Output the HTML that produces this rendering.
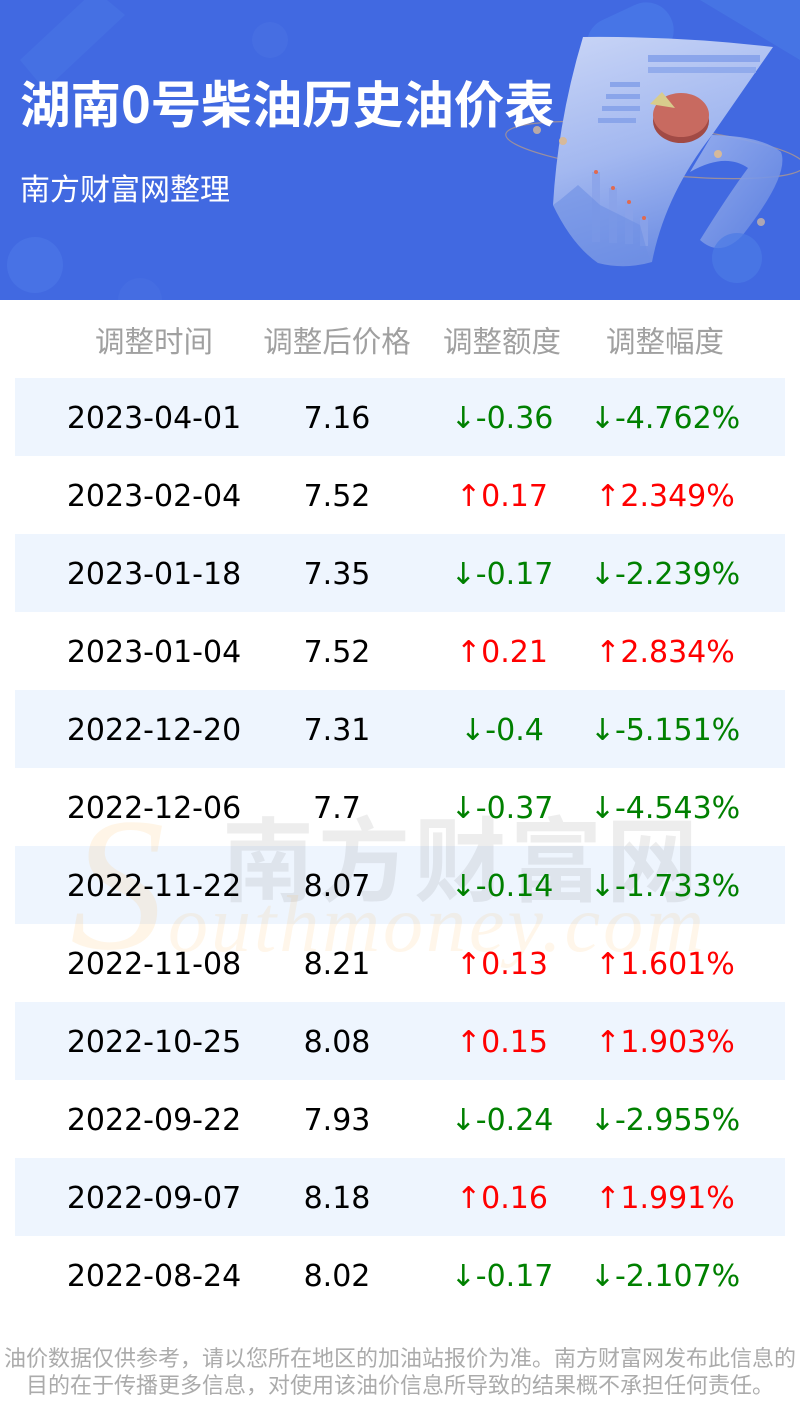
<!DOCTYPE html>
<html><head><meta charset="utf-8">
<style>
*{margin:0;padding:0;box-sizing:border-box}
body{width:800px;height:1428px;background:#fff;position:relative;overflow:hidden;font-family:"DejaVu Sans","Liberation Sans","Noto Sans CJK SC",sans-serif}
.hdr{position:absolute;left:0;top:0;width:800px;height:300px;background:#4169e1;overflow:hidden}
.title{position:absolute;left:20px;top:68px;font-size:50.5px;font-weight:bold;color:#fff;font-family:"Noto Sans CJK SC","WenQuanYi Zen Hei",sans-serif;line-height:66px;white-space:nowrap}
.sub{position:absolute;left:20px;top:167px;font-size:30px;color:#fff;font-family:"Noto Sans CJK SC",sans-serif;line-height:40px;white-space:nowrap}
.th{position:absolute;top:318px;height:44px;line-height:44px;font-size:29.5px;color:#a0a0a0;font-family:"Noto Sans CJK SC",sans-serif;text-align:center;white-space:nowrap}
.row{position:absolute;left:15px;width:770px;height:78px}
.row.s{background:#eef5fe}
.c{position:absolute;height:78px;line-height:78px;font-size:30px;text-align:center;white-space:nowrap;width:220px}
.c1{left:44px;color:#000}
.c2{left:227px;color:#000}
.c3{left:392px}
.c4{left:555px}
.g{color:#008000}.r{color:#ff0000}
.wm{position:absolute;white-space:nowrap;pointer-events:none}
.foot{position:absolute;left:0;width:800px;text-align:center;font-size:22px;color:#ababab;font-family:"Noto Sans CJK SC",sans-serif;line-height:27px;white-space:nowrap}
</style></head><body>
<div class="hdr">
<svg width="800" height="300" style="position:absolute;left:0;top:0">
<defs>
<linearGradient id="pg" x1="0" y1="0" x2="0.3" y2="1">
<stop offset="0" stop-color="#c9d5f6"/><stop offset="0.55" stop-color="#a3b8f0"/><stop offset="1" stop-color="#6f8fe4"/>
</linearGradient>
<linearGradient id="rg" x1="0" y1="0" x2="1" y2="1">
<stop offset="0" stop-color="#9bb2ef"/><stop offset="1" stop-color="#5f82df"/>
</linearGradient>
</defs>
<path d="M20,60 L95,-10 L125,15 L45,90 Z" fill="#4a78e6" opacity="0.5"/>
<circle cx="270" cy="40" r="18" fill="#4b73e4" opacity="0.5"/>
<circle cx="35" cy="265" r="28" fill="#4d78e8" opacity="0.6"/>
<circle cx="140" cy="300" r="22" fill="#4a72e3" opacity="0.5"/>
<rect x="585" y="10" width="90" height="55" rx="27" fill="#4a7be8" opacity="0.7" transform="rotate(-25 630 37)"/>
<path d="M700,0 L800,0 L800,60 Z" fill="#4c80e8" opacity="0.5"/>
<ellipse cx="655" cy="150" rx="150" ry="24" transform="rotate(6 655 150)" fill="none" stroke="#c0a081" stroke-width="1.2" opacity="0.7"/>
<path d="M583,37 Q680,36 773,47 L712,135 Q665,195 652,262 Q625,270 598,263 Q572,245 553,205 Q558,120 583,37 Z" fill="url(#pg)"/>
<path d="M712,135 Q762,136 781,152 Q790,175 742,236 Q720,258 700,240 Q728,195 748,168 Q725,152 690,172 Z" fill="url(#rg)" opacity="0.9"/>
<rect x="648" y="55" width="112" height="7" fill="#7f9ce8" opacity="0.8"/>
<rect x="648" y="67" width="108" height="6" fill="#8aa5ea" opacity="0.8"/>
<rect x="610" y="82" width="30" height="5" fill="#8aa5ea"/>
<rect x="606" y="94" width="34" height="5" fill="#8aa5ea"/>
<rect x="602" y="106" width="38" height="5" fill="#8aa5ea"/>
<rect x="598" y="118" width="38" height="5" fill="#8aa5ea"/>
<ellipse cx="681" cy="121" rx="28" ry="22" fill="#a14a45"/>
<ellipse cx="681" cy="115" rx="28" ry="22" fill="#c86a60"/>
<path d="M650,104 L662,92 L675,108 Z" fill="#d8cc8c"/>
<rect x="592" y="172" width="8" height="70" fill="#89a3e9" opacity="0.8"/>
<rect x="609" y="188" width="8" height="55" fill="#89a3e9" opacity="0.8"/>
<rect x="625" y="202" width="8" height="42" fill="#89a3e9" opacity="0.8"/>
<rect x="640" y="218" width="8" height="28" fill="#89a3e9" opacity="0.8"/>
<circle cx="596" cy="172" r="2" fill="#e06a50"/><circle cx="613" cy="188" r="2" fill="#e06a50"/><circle cx="629" cy="202" r="2" fill="#e06a50"/><circle cx="644" cy="218" r="2" fill="#e06a50"/>
<path d="M560,200 L578,185 L600,205 L640,225 L650,262 L598,263 Q572,245 553,205 Z" fill="#6e8fe4" opacity="0.6"/>
<circle cx="537" cy="130" r="4" fill="#d6b99a" opacity="0.8"/>
<circle cx="563" cy="141" r="4" fill="#d6b99a"/>
<circle cx="718" cy="154" r="4" fill="#d6b99a"/>
<circle cx="761" cy="222" r="4" fill="#c8b5a8" opacity="0.8"/>
<circle cx="737" cy="258" r="25" fill="#4b7ae6" opacity="0.7"/>
</svg>
<div class="title">湖南0号柴油历史油价表</div>
<div class="sub">南方财富网整理</div>
</div>

<div class="th" style="left:44px;width:220px">调整时间</div>
<div class="th" style="left:227px;width:220px">调整后价格</div>
<div class="th" style="left:392px;width:220px">调整额度</div>
<div class="th" style="left:555px;width:220px">调整幅度</div>

<div class="row s" style="top:378px"></div>
<div class="row s" style="top:534px"></div>
<div class="row s" style="top:690px"></div>
<div class="row s" style="top:846px"></div>
<div class="row s" style="top:1002px"></div>
<div class="row s" style="top:1158px"></div>

<div class="wm" style="left:222px;top:800px;font-size:92px;font-weight:bold;color:rgba(110,110,110,0.12);font-family:'Noto Sans CJK SC',sans-serif;letter-spacing:4px;line-height:110px">南方财富网</div>
<div class="wm" style="left:70px;top:790px;font-size:190px;font-style:italic;color:rgba(255,175,60,0.12);font-family:'Liberation Serif',serif;line-height:190px">S</div>
<div class="wm" style="left:168px;top:880px;font-size:80px;font-style:italic;color:rgba(255,175,60,0.11);font-family:'Liberation Serif',serif;line-height:90px;letter-spacing:3px">outhmoney.com</div>

<div style="position:absolute;left:0;top:380px;width:800px">
<div style="position:relative;height:78px"><div class="c c1">2023-04-01</div><div class="c c2">7.16</div><div class="c c3 g">↓-0.36</div><div class="c c4 g">↓-4.762%</div></div>
<div style="position:relative;height:78px"><div class="c c1">2023-02-04</div><div class="c c2">7.52</div><div class="c c3 r">↑0.17</div><div class="c c4 r">↑2.349%</div></div>
<div style="position:relative;height:78px"><div class="c c1">2023-01-18</div><div class="c c2">7.35</div><div class="c c3 g">↓-0.17</div><div class="c c4 g">↓-2.239%</div></div>
<div style="position:relative;height:78px"><div class="c c1">2023-01-04</div><div class="c c2">7.52</div><div class="c c3 r">↑0.21</div><div class="c c4 r">↑2.834%</div></div>
<div style="position:relative;height:78px"><div class="c c1">2022-12-20</div><div class="c c2">7.31</div><div class="c c3 g">↓-0.4</div><div class="c c4 g">↓-5.151%</div></div>
<div style="position:relative;height:78px"><div class="c c1">2022-12-06</div><div class="c c2">7.7</div><div class="c c3 g">↓-0.37</div><div class="c c4 g">↓-4.543%</div></div>
<div style="position:relative;height:78px"><div class="c c1">2022-11-22</div><div class="c c2">8.07</div><div class="c c3 g">↓-0.14</div><div class="c c4 g">↓-1.733%</div></div>
<div style="position:relative;height:78px"><div class="c c1">2022-11-08</div><div class="c c2">8.21</div><div class="c c3 r">↑0.13</div><div class="c c4 r">↑1.601%</div></div>
<div style="position:relative;height:78px"><div class="c c1">2022-10-25</div><div class="c c2">8.08</div><div class="c c3 r">↑0.15</div><div class="c c4 r">↑1.903%</div></div>
<div style="position:relative;height:78px"><div class="c c1">2022-09-22</div><div class="c c2">7.93</div><div class="c c3 g">↓-0.24</div><div class="c c4 g">↓-2.955%</div></div>
<div style="position:relative;height:78px"><div class="c c1">2022-09-07</div><div class="c c2">8.18</div><div class="c c3 r">↑0.16</div><div class="c c4 r">↑1.991%</div></div>
<div style="position:relative;height:78px"><div class="c c1">2022-08-24</div><div class="c c2">8.02</div><div class="c c3 g">↓-0.17</div><div class="c c4 g">↓-2.107%</div></div>
</div>

<div class="foot" style="top:1344px">油价数据仅供参考，请以您所在地区的加油站报价为准。南方财富网发布此信息的</div>
<div class="foot" style="top:1371px">目的在于传播更多信息，对使用该油价信息所导致的结果概不承担任何责任。</div>
</body></html>
